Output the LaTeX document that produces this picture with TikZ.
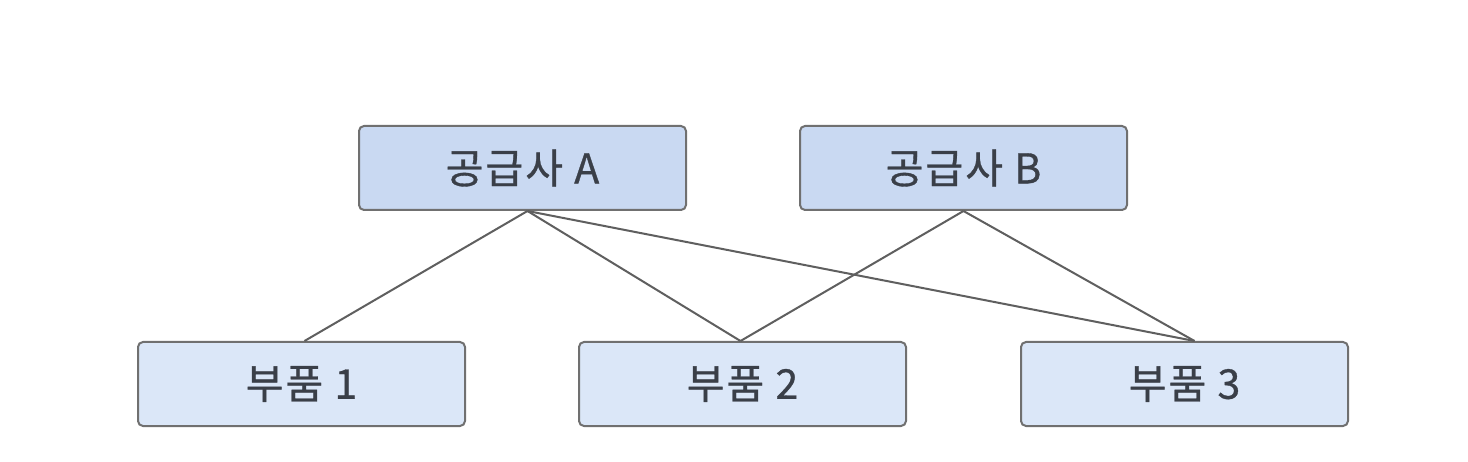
\documentclass[tikz,border=0pt]{standalone}
\usepackage{fontspec}
\newfontfamily\cjk[FakeBold=0.8,LetterSpace=5]{Noto Sans CJK KR}
\usetikzlibrary{calc}
\definecolor{topfill}{HTML}{C9D9F2}
\definecolor{botfill}{HTML}{DBE7F8}
\definecolor{edgegray}{HTML}{707070}
\definecolor{txt}{HTML}{3A3F48}
\begin{document}
\begin{tikzpicture}[x=1pt,y=-1pt,
  box/.style={draw=edgegray,line width=2pt,rounded corners=5pt,minimum width=327pt,minimum height=84pt,inner sep=0pt,font=\cjk\fontsize{41}{41}\selectfont,text=txt},
  supbox/.style={box,fill=topfill},
  partbox/.style={box,fill=botfill},
  link/.style={draw=edgegray!85!black,line width=2pt}]
\useasboundingbox[fill=white] (0,0) rectangle (1468,462);
\node[supbox] (A) at (522.5,168) {공급사 A};
\node[supbox] (B) at (963.5,168) {공급사 B};
\node[partbox] (P1) at (301.5,384) {부품 1};
\node[partbox] (P2) at (742.5,384) {부품 2};
\node[partbox] (P3) at (1184.5,384) {부품 3};
\coordinate (As) at ($(A.south)+(5,0)$);
\coordinate (P1n) at ($(P1.north)+(3,0)$);
\coordinate (P2n) at ($(P2.north)+(-2,0)$);
\coordinate (P3n) at ($(P3.north)+(10,0)$);
\draw[link] (As) -- (P1n);
\draw[link] (As) -- (P2n);
\draw[link] (As) -- (P3n);
\draw[link] (B.south) -- (P2n);
\draw[link] (B.south) -- (P3n);
\end{tikzpicture}
\end{document}
